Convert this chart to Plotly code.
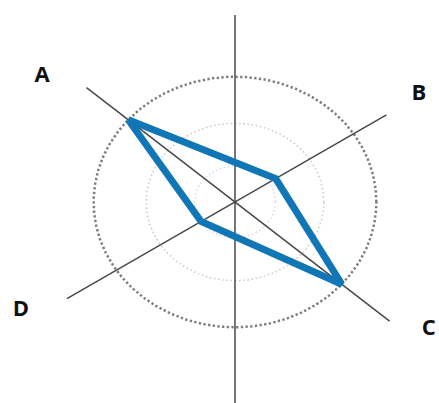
import numpy as np
import plotly.graph_objects as go

# Radar-style diagram: four named spokes, three dotted reference rings
categories = ["A", "B", "C", "D"]
category_angles = [139, 33, -41, 213]      # direction of each spoke, degrees
values = [3.5, 1.2, 3.5, 1.0]              # value plotted on each spoke
ring_levels = [1.0, 2.2, 3.5]              # dotted reference rings

# spoke lines: (angle, length toward angle, length toward the opposite side)
spokes = [(90, 5.22, 6.5), (139, 4.87, 5.07), (33, 4.47, 4.96)]

# label placement (radius, angle) for each category
label_pos = {"A": (5.93, 143.6), "B": (5.45, 33.3), "C": (5.97, -36.5), "D": (6.10, 209.7)}


def polar_xy(r, deg):
    t = np.deg2rad(np.asarray(deg, dtype=float))
    r = np.asarray(r, dtype=float)
    return r * np.cos(t), r * np.sin(t)


fig = go.Figure()

# reference rings
ring_styles = [
    dict(color="#d8d8d8", width=1.4, dash="1.5px,2.6px"),
    dict(color="#cbcbcb", width=1.5, dash="1.6px,2.6px"),
    dict(color="#7d7d7d", width=2.5, dash="2.3px,2.4px"),
]
theta = np.linspace(0, 360, 721)
for lvl, st in zip(ring_levels, ring_styles):
    x, y = polar_xy(np.full_like(theta, lvl), theta)
    fig.add_trace(go.Scatter(x=x, y=y, mode="lines", line=st,
                             hoverinfo="skip", showlegend=False))

# spokes through the centre
for ang, pos_len, neg_len in spokes:
    x, y = polar_xy([pos_len, neg_len], [ang, ang + 180])
    fig.add_trace(go.Scatter(x=x, y=y, mode="lines",
                             line=dict(color="#484848", width=1.5),
                             hoverinfo="skip", showlegend=False))

# data polygon
px_, py_ = polar_xy(values + values[:1], category_angles + category_angles[:1])
fig.add_trace(go.Scatter(x=px_, y=py_, mode="lines",
                         line=dict(color="#1176b5", width=7),
                         text=categories + categories[:1],
                         hoverinfo="text", showlegend=False))

# category labels
lx, ly = polar_xy([label_pos[c][0] for c in categories],
                  [label_pos[c][1] for c in categories])
fig.add_trace(go.Scatter(x=lx, y=ly, mode="text", text=categories,
                         textposition="middle center",
                         textfont=dict(family="Open Sans", size=22,
                                       color="#111111", weight=700),
                         hoverinfo="skip", showlegend=False))

fig.update_layout(
    width=439, height=403,
    margin=dict(l=0, r=0, t=0, b=0),
    paper_bgcolor="white", plot_bgcolor="white",
    xaxis=dict(range=[-5.817, 5.050], visible=False, fixedrange=True),
    yaxis=dict(range=[-5.615, 5.642], visible=False, fixedrange=True),
)

fig.write_html("out.html", config={"displayModeBar": False})
